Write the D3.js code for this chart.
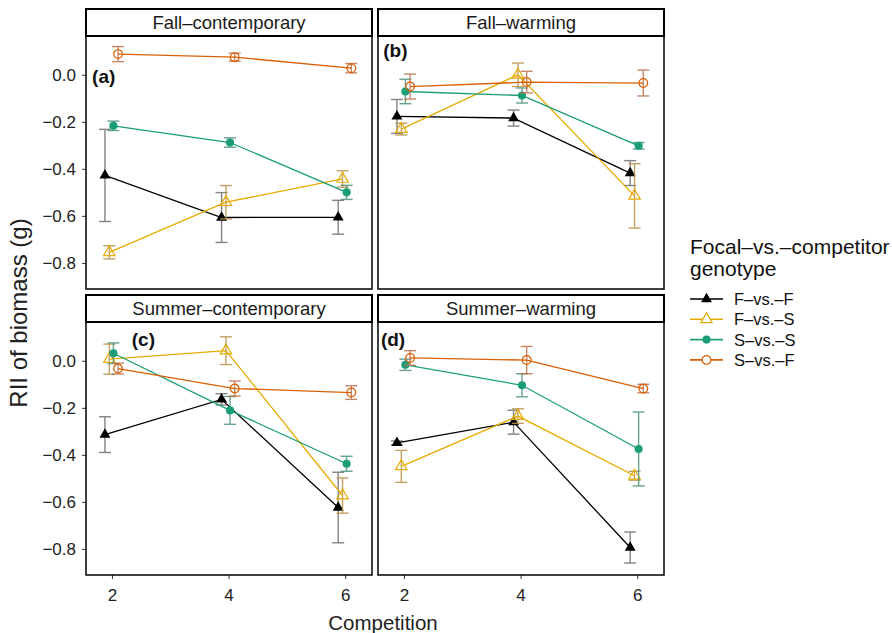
<!DOCTYPE html>
<html lang="en">
<head>
    <meta charset="UTF-8">
    <title>RII of biomass by competition</title>
    <script src="https://d3js.org/d3.v7.min.js"></script>
    <style>
        body {
            margin: 0;
            background: #ffffff;
            font-family: "Liberation Sans", Arial, Helvetica, sans-serif;
        }
        .strip-text { font-size: 18.5px; fill: #1a1a1a; text-anchor: middle; }
        .tag { font-size: 19px; font-weight: bold; fill: #111; }
        .axis text { font-size: 17px; fill: #222; font-family: "Liberation Sans", Arial, sans-serif; }
        .axis line { stroke: #333; }
        .axis path { display: none; }
        .axis-title { font-size: 20.5px; fill: #222; text-anchor: middle; }
        .legend-title { font-size: 21px; fill: #111; }
        .legend-label { font-size: 16.5px; fill: #111; }
    </style>
</head>
<body>
<svg id="chart" width="892" height="633"></svg>
<script>
    // ---- data ----
    const competition = [2, 4, 6];
    const panels = ["Fall–contemporary", "Fall–warming", "Summer–contemporary", "Summer–warming"];
    const panelTags = ["(a)", "(b)", "(c)", "(d)"];
    const genotypes = ["F–vs.–F", "F–vs.–S", "S–vs.–S", "S–vs.–F"];
    const yTicks = [0, -0.2, -0.4, -0.6, -0.8];

    // mean RII, one row per genotype (F-F, F-S, S-S, S-F), columns = competition 2, 4, 6
    const meanFallContemporary = [
        [-0.428, -0.607, -0.606],
        [-0.755, -0.542, -0.443],
        [-0.217, -0.288, -0.500],
        [0.088, 0.075, 0.028]
    ];
    const errFallContemporary = [
        [0.196, 0.106, 0.072],
        [0.028, 0.071, 0.035],
        [0.020, 0.020, 0.030],
        [0.032, 0.017, 0.020]
    ];
    const meanFallWarming = [
        [-0.177, -0.184, -0.418],
        [-0.231, 0.000, -0.515],
        [-0.071, -0.088, -0.302],
        [-0.050, -0.031, -0.035]
    ];
    const errFallWarming = [
        [0.072, 0.034, 0.053],
        [0.025, 0.050, 0.137],
        [0.052, 0.032, 0.014],
        [0.053, 0.046, 0.055]
    ];
    const meanSummerContemporary = [
        [-0.314, -0.164, -0.624],
        [0.007, 0.043, -0.573],
        [0.032, -0.211, -0.438],
        [-0.033, -0.118, -0.135]
    ];
    const errSummerContemporary = [
        [0.076, 0.024, 0.150],
        [0.064, 0.059, 0.075],
        [0.044, 0.059, 0.032],
        [0.023, 0.032, 0.029]
    ];
    const meanSummerWarming = [
        [-0.349, -0.261, -0.794],
        [-0.449, -0.235, -0.489],
        [-0.017, -0.104, -0.375],
        [0.012, 0.003, -0.118]
    ];
    const errSummerWarming = [
        [0.008, 0.051, 0.066],
        [0.068, 0.031, 0.019],
        [0.024, 0.049, 0.157],
        [0.031, 0.058, 0.018]
    ];

    const means = [meanFallContemporary, meanFallWarming, meanSummerContemporary, meanSummerWarming];
    const errs = [errFallContemporary, errFallWarming, errSummerContemporary, errSummerWarming];

    // ---- look ----
    const lineColors = ["#000000", "#E6AB02", "#1B9E77", "#D95F02"];
    const barColors = ["#6e6e6e", "#b8924a", "#4f937b", "#bd7350"];
    const dodge = [-0.12, -0.045, 0.025, 0.105];      // x offsets in competition units
    const tagPos = [[1.66, -0.034], [1.645, 0.074], [2.34, 0.063], [1.605, 0.063]];

    const svg = d3.select("#chart");
    const panelX = [86, 378];
    const stripTop = [9, 295];
    const panelW = 286, stripH = 27, plotH = 253;

    const x = d3.scaleLinear().domain([1.555, 6.46]).range([0, panelW]);
    const y = d3.scaleLinear().domain([-0.911, 0.165]).range([plotH, 0]);

    panels.forEach((name, p) => {
        const col = p % 2, row = Math.floor(p / 2);
        const g = svg.append("g")
            .attr("transform", `translate(${panelX[col]},${stripTop[row]})`);

        // strip
        g.append("rect")
            .attr("x", 0).attr("y", 0)
            .attr("width", panelW).attr("height", stripH)
            .attr("fill", "#fff").attr("stroke", "#000").attr("stroke-width", 2);
        g.append("text")
            .attr("class", "strip-text")
            .attr("x", panelW / 2).attr("y", stripH / 2 + 6.5)
            .text(name);

        const plot = g.append("g").attr("transform", `translate(0,${stripH})`);

        // axes
        if (col === 0) {
            plot.append("g").attr("class", "axis")
                .call(d3.axisLeft(y).tickValues(yTicks).tickSize(4).tickPadding(6)
                    .tickFormat(d => d3.format(".1f")(d).replace("-", "−")));
        }
        if (row === 1) {
            plot.append("g").attr("class", "axis")
                .attr("transform", `translate(0,${plotH})`)
                .call(d3.axisBottom(x).tickValues(competition).tickSize(4).tickPadding(10)
                    .tickFormat(d3.format("d")));
        }

        // series
        genotypes.forEach((gt, s) => {
            const pts = competition.map((c, i) => ({
                c: c + dodge[s], m: means[p][s][i], e: errs[p][s][i]
            }));

            // error bars
            const eb = plot.append("g")
                .attr("stroke", barColors[s]).attr("stroke-width", 1.4)
                .attr("opacity", 0.85).attr("fill", "none");
            pts.forEach(d => {
                const cx = x(d.c);
                eb.append("line").attr("x1", cx).attr("x2", cx)
                    .attr("y1", y(d.m + d.e)).attr("y2", y(d.m - d.e));
                eb.append("line").attr("x1", cx - 6).attr("x2", cx + 6)
                    .attr("y1", y(d.m + d.e)).attr("y2", y(d.m + d.e));
                eb.append("line").attr("x1", cx - 6).attr("x2", cx + 6)
                    .attr("y1", y(d.m - d.e)).attr("y2", y(d.m - d.e));
            });

            // line
            plot.append("path")
                .datum(pts)
                .attr("fill", "none")
                .attr("stroke", lineColors[s])
                .attr("stroke-width", 1.3)
                .attr("d", d3.line().x(d => x(d.c)).y(d => y(d.m)));

            // points
            plot.selectAll(null)
                .data(pts)
                .enter().append("path")
                .attr("transform", d => `translate(${x(d.c)},${y(d.m)})`)
                .attr("d", markerPath(s))
                .attr("fill", s === 0 || s === 2 ? lineColors[s] : "#fff")
                .attr("fill-opacity", s === 0 || s === 2 ? 1 : 0)
                .attr("stroke", lineColors[s])
                .attr("stroke-width", s === 0 || s === 2 ? 0 : 1.2);
        });

        // panel border
        plot.append("rect")
            .attr("width", panelW).attr("height", plotH)
            .attr("fill", "none").attr("stroke", "#000").attr("stroke-width", 1.5);

        // panel tag
        plot.append("text")
            .attr("class", "tag")
            .attr("x", x(tagPos[p][0])).attr("y", y(tagPos[p][1]))
            .text(panelTags[p]);
    });

    function markerPath(s) {
        if (s === 0) return d3.symbol(d3.symbolTriangle, 52)();
        if (s === 1) return d3.symbol(d3.symbolTriangle, 56)();
        if (s === 2) return d3.symbol(d3.symbolCircle, 52)();
        return d3.symbol(d3.symbolCircle, 60)();
    }

    // axis titles
    svg.append("text")
        .attr("class", "axis-title")
        .attr("x", 383).attr("y", 630)
        .text("Competition");
    svg.append("text")
        .attr("class", "axis-title")
        .attr("transform", "translate(27,313) rotate(-90)")
        .style("font-size", "24px")
        .text("RII of biomass (g)");

    // legend
    const legend = svg.append("g").attr("transform", "translate(690,0)");
    legend.append("text").attr("class", "legend-title").attr("x", 0).attr("y", 254).text("Focal–vs.–competitor");
    legend.append("text").attr("class", "legend-title").attr("x", 0).attr("y", 276).text("genotype");
    genotypes.forEach((gt, s) => {
        const ly = 299 + s * 20.3;
        legend.append("line")
            .attr("x1", 0).attr("x2", 33).attr("y1", ly).attr("y2", ly)
            .attr("stroke", lineColors[s]).attr("stroke-width", 1.6);
        legend.append("path")
            .attr("transform", `translate(16.5,${ly})`)
            .attr("d", markerPath(s))
            .attr("fill", s === 0 || s === 2 ? lineColors[s] : "#fff")
            .attr("stroke", lineColors[s])
            .attr("stroke-width", s === 0 || s === 2 ? 0 : 1.2);
        legend.append("text")
            .attr("class", "legend-label")
            .attr("x", 44).attr("y", ly + 6)
            .text(gt);
    });
</script>
</body>
</html>
